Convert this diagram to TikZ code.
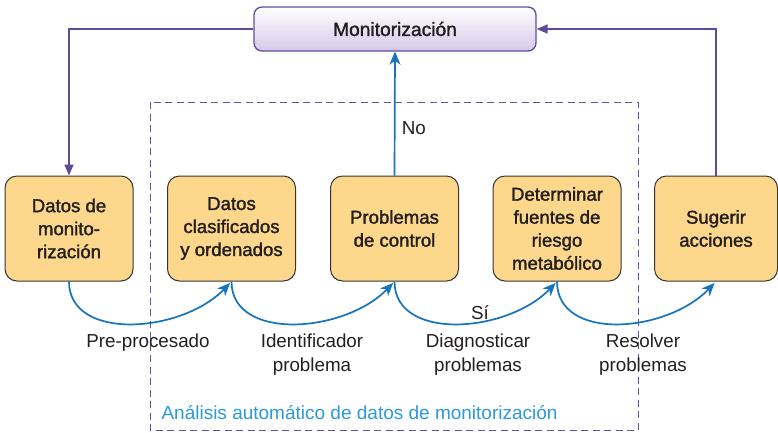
\documentclass[tikz,border=0pt]{standalone}
\usepackage{fontspec}
\setmainfont{Liberation Sans}
\usetikzlibrary{arrows.meta,positioning}
\definecolor{boxfill}{RGB}{252,215,140}
\definecolor{boxline}{RGB}{55,52,50}
\definecolor{purp}{RGB}{94,75,156}
\definecolor{blu}{RGB}{22,115,190}
\definecolor{ltblu}{RGB}{42,154,216}
\definecolor{txt}{RGB}{35,31,32}
\definecolor{lav}{RGB}{214,200,232}
\definecolor{dashc}{RGB}{90,85,168}
\newfontfamily\boxfont[FakeBold=1.6]{Liberation Sans}
\tikzset{
  stepbox/.style={draw=boxline, line width=1pt, fill=boxfill, rounded corners=12pt,
    minimum height=105pt, align=center, text=txt,
    font=\boxfont\fontsize{18.6}{23}\selectfont},
  monbox/.style={draw=purp, line width=1.3pt, rounded corners=8pt, top color=white,
    bottom color=lav, minimum width=282pt, minimum height=44pt, text=txt,
    font=\boxfont\fontsize{19.2}{22}\selectfont},
  purparrow/.style={draw=purp, line width=1.8pt, -{Triangle[length=11pt,width=9pt]}},
  bluearrow/.style={draw=blu, line width=1.7pt, -{Stealth[length=13pt,width=11pt,inset=4pt]}},
  lbl/.style={text=txt, align=center, font=\fontsize{18.8}{24}\selectfont},
}
\begin{document}
\begin{tikzpicture}[x=1pt,y=-1pt]
\useasboundingbox (0,0) rectangle (778,432);
% dashed frame
\draw[dashc, line width=1pt, dash pattern=on 7pt off 4.5pt] (150,102) rectangle (638,430);
\node[anchor=west, text=ltblu, font=\fontsize{19}{22}\selectfont] (ttl) at (158,413) {Análisis automático de datos de monitorización};

\node[monbox] (mon) at (395,29) {Monitorización};
\node[stepbox, minimum width=128pt] (b1) at (69,228.5) {Datos de\\monito-\\rización};
\node[stepbox, minimum width=128pt] (b2) at (231.5,228.5) {Datos\\clasificados\\y ordenados};
\node[stepbox, minimum width=128pt] (b3) at (394.5,228.5) {Problemas\\de control};
\node[stepbox, minimum width=128pt] (b4) at (557,228.5) {Determinar\\fuentes de\\riesgo\\metabólico};
\node[stepbox, minimum width=123pt] (b5) at (716,228.5) {Sugerir\\acciones};

% purple loop
\draw[purparrow] (mon.west) -| (b1.north);
\draw[purparrow] (b5.north) |- (mon.east);
% No
\draw[bluearrow] (b3.north) -- node[lbl, pos=0.38, right=3pt] (no) {No} (mon.south);

% curved arrows
\draw[bluearrow, shorten >=2pt] (b1.south) .. controls +(0,60) and +(-50,52) .. (b2.south);
\draw[bluearrow, shorten >=2pt] (b2.south) .. controls +(0,60) and +(-50,52) .. (b3.south);
\draw[bluearrow, shorten >=2pt] (b3.south) .. controls +(0,60) and +(-50,52) .. (b4.south);
\draw[bluearrow, shorten >=2pt] (b4.south) .. controls +(0,60) and +(-50,52) .. (b5.south);

\node[lbl] (l1) at (148,343) {Pre-procesado};
\node[lbl] (l2) at (312,355) {Identificador\\problema};
\node[lbl] (si) at (480,313) {Sí};
\node[lbl] (l3) at (478,355) {Diagnosticar\\problemas};
\node[lbl] (l4) at (643,355) {Resolver\\problemas};
\end{tikzpicture}
\end{document}
